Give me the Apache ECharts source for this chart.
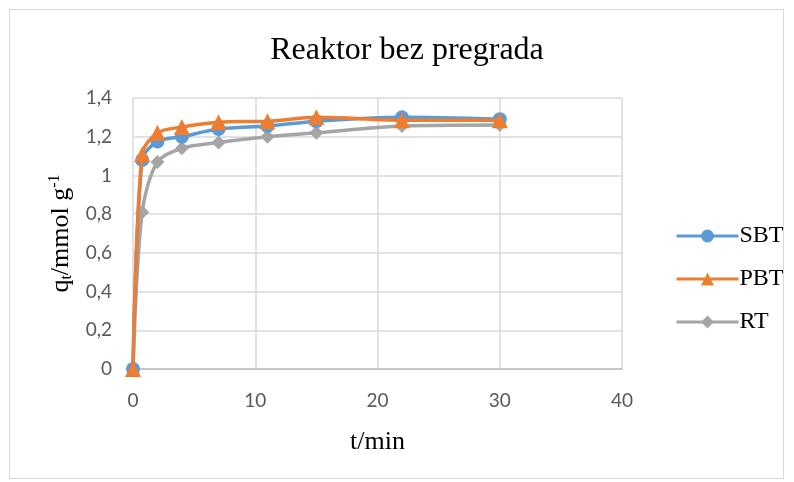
<!DOCTYPE html>
<html><head><meta charset="utf-8">
<script src="https://cdn.jsdelivr.net/npm/echarts@6/dist/echarts.min.js"></script>
<style>
html,body{margin:0;padding:0;background:#fff;}
#frame{position:absolute;left:9px;top:9px;width:775px;height:470px;border:1px solid #d9d9d9;box-sizing:border-box;}
#c{position:absolute;left:0;top:0;width:794px;height:482px;}
</style></head>
<body>
<div id="frame"></div>
<div id="c"></div>
<script>
const times = [0, 0.75, 2, 4, 7, 11, 15, 22, 30];
const sbt = [0, 1.08, 1.175, 1.20, 1.24, 1.255, 1.28, 1.30, 1.29];
const pbt = [0, 1.11, 1.22, 1.25, 1.275, 1.28, 1.30, 1.285, 1.285];
const rt  = [0, 0.81, 1.07, 1.14, 1.17, 1.20, 1.22, 1.255, 1.26];
const seriesNames = ['SBT', 'PBT', 'RT'];
const colors = ['#5B9BD5', '#ED7D31', '#A5A5A5'];
const symbols = ['circle', 'triangle', 'diamond'];
const values = [sbt, pbt, rt];

const chart = echarts.init(document.getElementById('c'));
chart.setOption({
  animation: false,
  title: {
    text: 'Reaktor bez pregrada',
    left: 402, top: 30, textAlign: 'center',
    textStyle: {fontFamily: 'Liberation Serif', fontSize: 32, fontWeight: 'normal', color: '#000'}
  },
  grid: {left: 133, right: 172, top: 98, bottom: 113},
  legend: {
    orient: 'vertical', left: 670, top: 219, itemGap: 19, itemWidth: 62, itemHeight: 16,
    lineStyle: {width: 3},
    textStyle: {fontFamily: 'Liberation Serif', fontSize: 24, color: '#000', padding: [0,0,0,-4]},
    data: seriesNames
  },
  xAxis: {
    type: 'value', min: 0, max: 40, interval: 10,
    name: 't/min', nameLocation: 'middle', nameGap: 60,
    nameTextStyle: {fontFamily: 'Liberation Serif', fontSize: 26, color: '#000'},
    axisLine: {show: true, lineStyle: {color: '#bfbfbf', width: 1.5}},
    axisTick: {show: false},
    axisLabel: {fontFamily: 'Lato', fontSize: 19, color: '#595959', margin: 22},
    splitLine: {show: true, lineStyle: {color: '#d9d9d9', width: 1.5}}
  },
  yAxis: {
    type: 'value', min: 0, max: 1.4, interval: 0.2,
    name: '{q|q}{sub|t}{q|/mmol g}{sup|-1}', nameLocation: 'middle', nameGap: 58, nameRotate: 90,
    nameTextStyle: {
      rich: {
        q: {fontFamily: 'Liberation Serif', fontSize: 26, color: '#000'},
        sub: {fontFamily: 'Liberation Serif', fontSize: 16, color: '#000', verticalAlign: 'bottom', padding: [10,0,0,0]},
        sup: {fontFamily: 'Liberation Serif', fontSize: 16, color: '#000', verticalAlign: 'top', padding: [0,0,12,0]}
      }
    },
    axisLine: {show: false},
    axisTick: {show: false},
    axisLabel: {fontFamily: 'Lato', fontSize: 19, color: '#595959', margin: 21,
      formatter: v => (Math.round(v*10)/10).toString().replace('.', ',')},
    splitLine: {show: true, lineStyle: {color: '#d9d9d9', width: 1.5}}
  },
  series: seriesNames.map((n, i) => ({
    name: n, type: 'line', smooth: 0.3,
    data: times.map((t, j) => [t, values[i][j]]),
    symbol: symbols[i], symbolSize: i === 1 ? 16 : 14, showAllSymbol: true,
    lineStyle: {color: colors[i], width: 3.5},
    itemStyle: {color: colors[i]},
    z: i === 1 ? 3 : (i === 0 ? 2 : 1)
  }))
});
</script>
</body></html>
